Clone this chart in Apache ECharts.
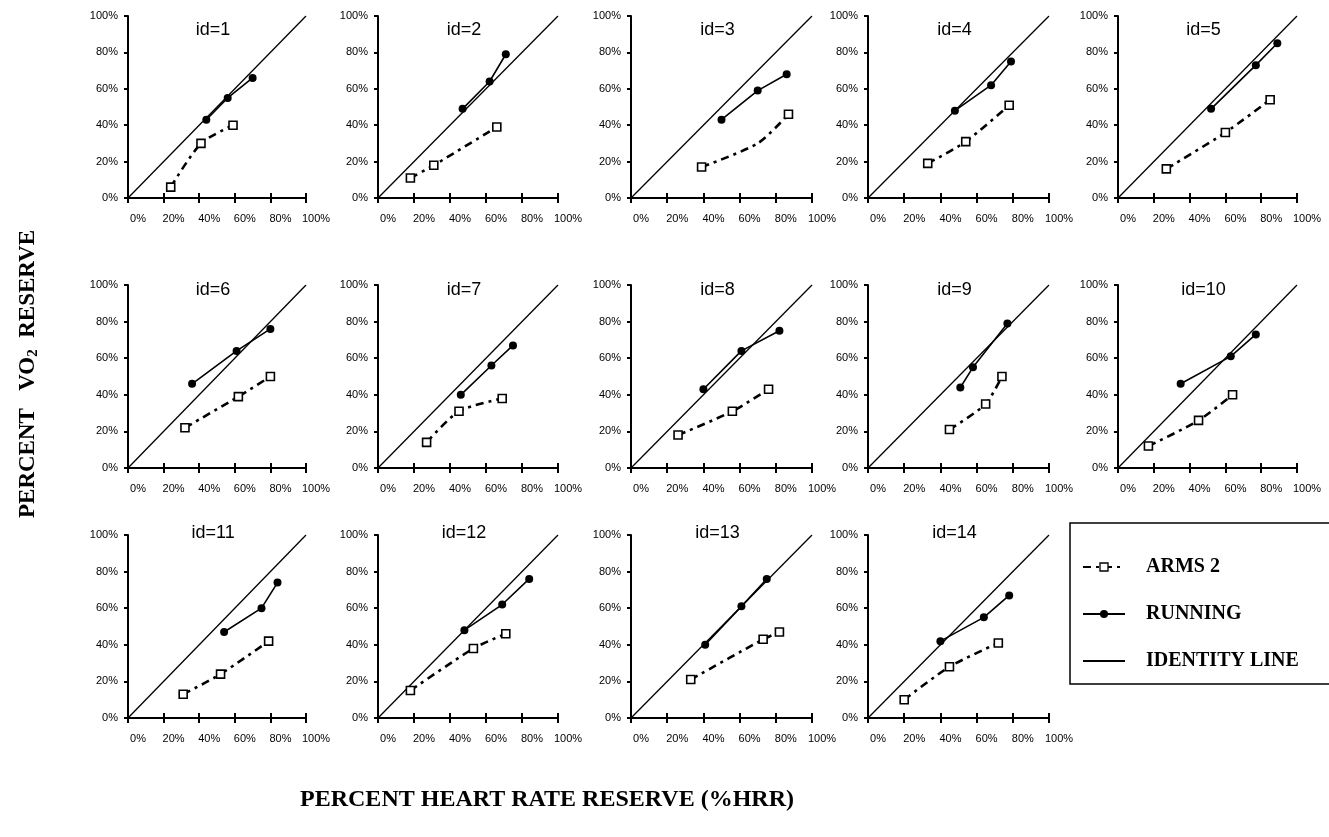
<!DOCTYPE html>
<html>
<head>
<meta charset="utf-8">
<title>Percent VO2 reserve vs percent heart rate reserve</title>
<script src="https://cdn.jsdelivr.net/npm/echarts@6/dist/echarts.min.js"></script>
<style>
html, body { margin: 0; padding: 0; background: #fff; }
#main { width: 1329px; height: 837px; }
</style>
</head>
<body>
<div id="main"></div>
<script>
// values, [ %HRR, %VO2R ] ; third item 0 = no marker drawn
var panelIds = [1, 2, 3, 4, 5, 6, 7, 8, 9, 10, 11, 12, 13, 14];

var armsData = [
    [[24, 6], [41, 30], [59, 40]],
    [[18, 11], [31, 18], [66, 39]],
    [[39, 17], [70, 30, 0], [87, 46]],
    [[33, 19], [54, 31], [78, 51]],
    [[27, 16], [60, 36], [85, 54]],
    [[32, 22], [62, 39], [80, 50]],
    [[27, 14], [45, 31], [69, 38]],
    [[26, 18], [56, 31], [76, 43]],
    [[45, 21], [65, 35], [74, 50]],
    [[17, 12], [45, 26], [64, 40]],
    [[31, 13], [52, 24], [79, 42]],
    [[18, 15], [53, 38], [71, 46]],
    [[33, 21], [73, 43], [82, 47]],
    [[20, 10], [45, 28], [72, 41]]
];

var runningData = [
    [[44, 43], [56, 55], [70, 66]],
    [[47, 49], [62, 64], [71, 79]],
    [[50, 43], [70, 59], [86, 68]],
    [[48, 48], [68, 62], [79, 75]],
    [[52, 49], [77, 73], [89, 85]],
    [[36, 46], [61, 64], [80, 76]],
    [[46, 40], [63, 56], [75, 67]],
    [[40, 43], [61, 64], [82, 75]],
    [[51, 44], [58, 55], [77, 79]],
    [[35, 46], [63, 61], [77, 73]],
    [[54, 47], [75, 60], [84, 74]],
    [[48, 48], [69, 62], [84, 76]],
    [[41, 40], [61, 61], [75, 76]],
    [[40, 42], [64, 55], [78, 67]]
];

var identityLine = [[0, 0], [100, 100]];

// layout of the 5 x 3 panel block
var colLeft = [128, 378, 631, 868, 1118];
var colWidth = [178, 180, 181, 181, 179];
var rowTop = [16, 285, 535];
var rowHeight = [182, 183, 183];
var titleTop = [16, 276, 519];

var myChart = echarts.init(document.getElementById('main'));

var grids = [], xAxes = [], yAxes = [], titles = [], series = [];

panelIds.forEach(function (id, i) {
    var col = i % 5, row = Math.floor(i / 5);
    grids.push({
        left: colLeft[col], top: rowTop[row],
        width: colWidth[col], height: rowHeight[row]
    });
    titles.push({
        text: 'id=' + id,
        left: colLeft[col] + colWidth[col] * 0.45,
        top: titleTop[row],
        textAlign: 'center',
        textStyle: { fontFamily: 'Liberation Sans', fontSize: 18, fontWeight: 'normal', color: '#000' }
    });
    // main x axis with labels
    xAxes.push({
        gridIndex: i, type: 'value', min: 0, max: 100, interval: 20,
        splitLine: { show: false },
        axisLine: { lineStyle: { color: '#000', width: 2 } },
        axisTick: { length: 5, lineStyle: { color: '#000', width: 2 } },
        axisLabel: {
            formatter: '{value}%', margin: 15, padding: [0, 0, 0, 20],
            color: '#000', fontFamily: 'Liberation Sans', fontSize: 11
        }
    });
    yAxes.push({
        gridIndex: i, type: 'value', min: 0, max: 100, interval: 20,
        splitLine: { show: false },
        axisLine: { lineStyle: { color: '#000', width: 2 } },
        axisTick: { length: 4, lineStyle: { color: '#000', width: 2 } },
        axisLabel: {
            formatter: '{value}%', margin: 10,
            color: '#000', fontFamily: 'Liberation Sans', fontSize: 11
        }
    });
    series.push({
        name: 'IDENTITY LINE', type: 'line',
        xAxisIndex: i, yAxisIndex: i,
        data: identityLine, symbol: 'none',
        lineStyle: { color: '#000', width: 1.3 },
        itemStyle: { color: '#000' }
    });
    series.push({
        name: 'ARMS 2', type: 'line',
        xAxisIndex: i, yAxisIndex: i,
        smooth: 0.25,
        data: armsData[i].map(function (p) {
            return p[2] === 0 ? { value: [p[0], p[1]], symbol: 'none' } : [p[0], p[1]];
        }),
        symbol: 'rect', symbolSize: 8,
        itemStyle: { color: '#fff', borderColor: '#000', borderWidth: 1.6 },
        lineStyle: { color: '#000', width: 2.6, type: [8, 5, 3, 5] },
        z: 3
    });
    series.push({
        name: 'RUNNING', type: 'line',
        xAxisIndex: i, yAxisIndex: i,
        data: runningData[i],
        symbol: 'circle', symbolSize: 8,
        itemStyle: { color: '#000' },
        lineStyle: { color: '#000', width: 1.6 },
        z: 4
    });
});

// second x axis per panel: only the inner half of the tick marks
panelIds.forEach(function (id, i) {
    xAxes.push({
        gridIndex: i, type: 'value', min: 0, max: 100, interval: 20,
        position: 'bottom',
        splitLine: { show: false }, axisLine: { show: false }, axisLabel: { show: false },
        axisTick: { inside: true, length: 5, lineStyle: { color: '#000', width: 2 } }
    });
});

var option = {
    animation: false,
    backgroundColor: '#fff',
    title: titles,
    grid: grids,
    xAxis: xAxes,
    yAxis: yAxes,
    legend: {
        data: [
            { name: 'ARMS 2', itemStyle: { borderWidth: 1.3 } },
            'RUNNING',
            { name: 'IDENTITY LINE', itemStyle: { color: 'rgba(0,0,0,0)', borderColor: 'rgba(0,0,0,0)', borderWidth: 0 } }
        ],
        orient: 'vertical',
        left: 1077, top: 552,
        itemWidth: 42, itemHeight: 10, itemGap: 27,
        textStyle: {
            fontFamily: 'Liberation Serif', fontWeight: 'bold', fontSize: 20,
            color: '#000', padding: [0, 0, 0, 16]
        }
    },
    graphic: [
        {
            type: 'rect', z: -1,
            shape: { x: 1070, y: 523, width: 270, height: 161 },
            style: { fill: 'none', stroke: '#000', lineWidth: 1.5 }
        },
        {
            type: 'text', x: 28, y: 374, rotation: Math.PI / 2,
            style: {
                text: '{t|PERCENT   VO}{s|2}{t|  RESERVE}',
                align: 'center', verticalAlign: 'middle',
                rich: {
                    t: { fontFamily: 'Liberation Serif', fontWeight: 'bold', fontSize: 23, fill: '#000' },
                    s: { fontFamily: 'Liberation Serif', fontWeight: 'bold', fontSize: 15, fill: '#000', padding: [10, 0, 0, 0] }
                }
            }
        },
        {
            type: 'text', x: 547, y: 800,
            style: {
                text: 'PERCENT HEART RATE RESERVE (%HRR)',
                align: 'center', verticalAlign: 'middle',
                fontFamily: 'Liberation Serif', fontWeight: 'bold', fontSize: 24, fill: '#000'
            }
        }
    ],
    series: series
};

myChart.setOption(option);
</script>
</body>
</html>
